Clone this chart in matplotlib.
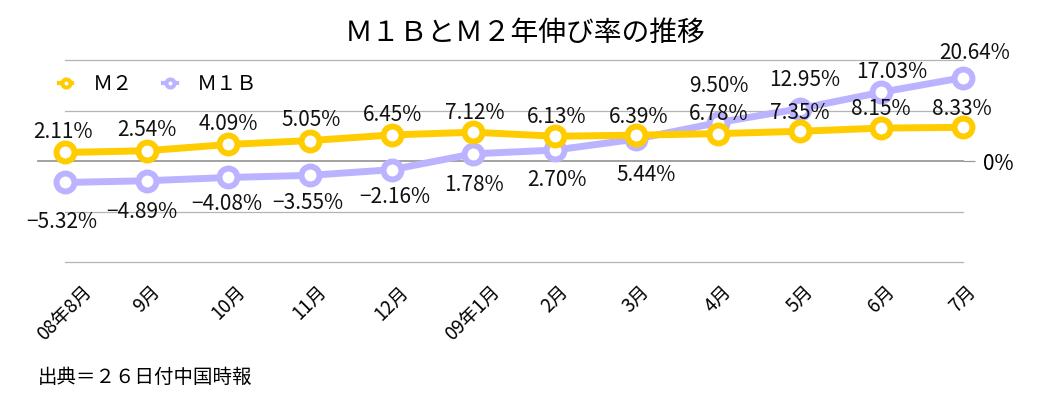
import matplotlib
matplotlib.use('Agg')
import matplotlib.pyplot as plt
from matplotlib.lines import Line2D

plt.rcParams['font.family'] = ['Noto Sans CJK JP', 'DejaVu Sans']

# data
months = ['08年8月', '9月', '10月', '11月', '12月', '09年1月',
          '2月', '3月', '4月', '5月', '6月', '7月']
m2 = [2.11, 2.54, 4.09, 5.05, 6.45, 7.12, 6.13, 6.39, 6.78, 7.35, 8.15, 8.33]
m1b = [-5.32, -4.89, -4.08, -3.55, -2.16, 1.78, 2.70, 5.44, 9.50, 12.95, 17.03, 20.64]

# label offsets (pixels)
m2_off = [(-2, 20), (0, 21), (0, 20), (1, 21), (1, 20), (2, 19),
          (2, 19), (2, 18), (1, 20), (0, 18), (-1, 19), (-1, 18)]
m1b_off = [(-3, -40), (-5, -31), (-1, -27), (-2, -28), (3, -27), (1, -31),
           (2, -30), (10, -36), (1, 37), (5, 29), (10, 20), (12, 25)]

yellow = '#ffcc00'
lav = '#bbb3ff'

W, H = 1052, 399
fig = plt.figure(figsize=(W / 100, H / 100), dpi=100)
ax = fig.add_axes([65 / W, 1 - 262 / H, (963 - 65) / W, (262 - 60) / H])

x = list(range(len(months)))
ax.set_xlim(0, len(months) - 1)
ax.set_ylim(-25, 25)

for g in [-25, -12.5, 12.5, 25]:
    ax.axhline(g, color='#b4b4b4', lw=0.9, zorder=1, clip_on=False)
ax.plot([-27 / 81.6, len(months) - 1], [0, 0], color='#9a9a9a', lw=1.3,
        zorder=1, clip_on=False)

ms, mew = 12.9, 4.3
ax.plot(x, m1b, color=lav, lw=5, marker='o', ms=ms, mew=mew,
        mfc='white', mec=lav, zorder=3, clip_on=False)
ax.plot(x, m2, color=yellow, lw=5, marker='o', ms=ms, mew=mew,
        mfc='white', mec=yellow, zorder=4, clip_on=False)

def pct(v):
    s = f'{abs(v):.2f}%'
    return ('\u2212' + s) if v < 0 else s

for xi, v, (dx, dy) in zip(x, m2, m2_off):
    ax.annotate(pct(v), (xi, v), xytext=(dx * 0.72, dy * 0.72),
                textcoords='offset points', ha='center', va='center',
                fontsize=15, color='#111111', zorder=6)
for xi, v, (dx, dy) in zip(x, m1b, m1b_off):
    ax.annotate(pct(v), (xi, v), xytext=(dx * 0.72, dy * 0.72),
                textcoords='offset points', ha='center', va='center',
                fontsize=15, color='#111111', zorder=6)

for s in ax.spines.values():
    s.set_visible(False)
ax.set_yticks([])
ax.set_xticks(x)
ax.set_xticklabels(months, rotation=45, ha='center', va='top', fontsize=13.5)
ax.tick_params(axis='x', length=0, pad=14)

ax2 = ax.twinx()
ax2.set_ylim(-25, 25)
for s in ax2.spines.values():
    s.set_visible(False)
ax2.set_yticks([0])
ax2.set_yticklabels(['0%'], fontsize=15, va='center_baseline')
ax2.tick_params(axis='y', length=8.5, width=0.9, color='#9a9a9a', pad=6)

fig.text(525 / W, 1 - 33 / H, 'Ｍ１ＢとＭ２年伸び率の推移', ha='center',
         va='center', fontsize=20)
fig.text(38 / W, 1 - 377 / H, '出典＝２６日付中国時報', ha='left',
         va='center', fontsize=14)

handles = [Line2D([], [], color=yellow, lw=3, marker='o', ms=5.8, mew=2.9,
                  mfc='white', mec=yellow),
           Line2D([], [], color=lav, lw=3, marker='o', ms=5.8, mew=2.9,
                  mfc='white', mec=lav)]
fig.legend(handles, ['Ｍ２', 'Ｍ１Ｂ'], loc='center left',
           bbox_to_anchor=(59 / W, 1 - 85 / H), ncol=2, frameon=False,
           fontsize=14.5, borderpad=0, borderaxespad=0, handlelength=0.67,
           handletextpad=1.0, columnspacing=1.5)

fig.savefig('out.png', dpi=100)
